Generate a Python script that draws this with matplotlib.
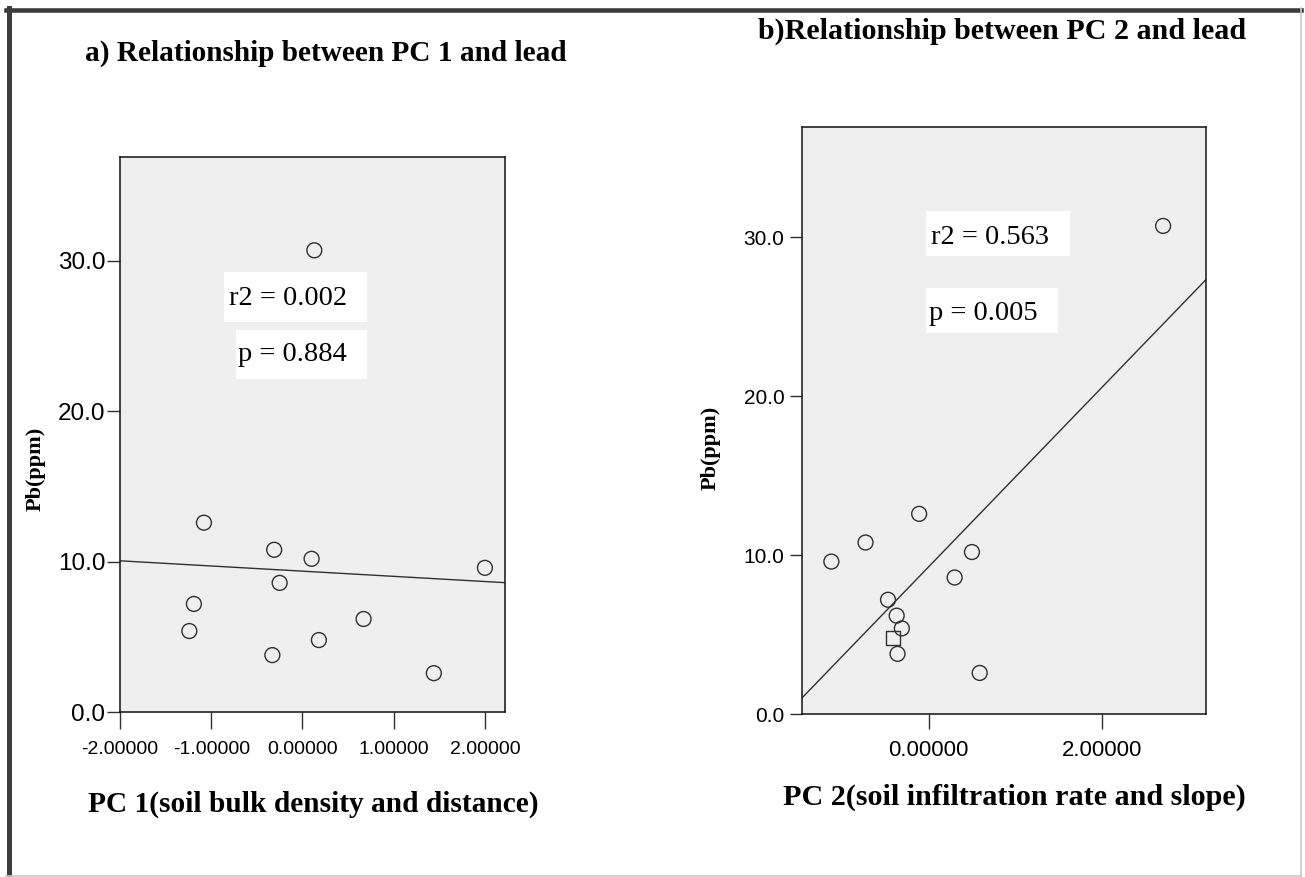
import numpy as np
import matplotlib
matplotlib.use('Agg')
import matplotlib.pyplot as plt
from matplotlib.lines import Line2D
from matplotlib.patches import Rectangle

# data (same 12 samples in both panels)
pb = [30.7, 12.6, 10.8, 10.2, 9.6, 8.6, 7.2, 6.2, 5.4, 4.8, 3.8, 2.6]
pc1 = [0.13, -1.08, -0.31, 0.10, 2.00, -0.25, -1.19, 0.67, -1.24, 0.18, -0.33, 1.44]
pc2 = [2.71, -0.11, -0.73, 0.50, -1.125, 0.30, -0.47, -0.37, -0.31, -0.41, -0.36, 0.59]

titles = ['a) Relationship between PC 1 and lead', 'b)Relationship between PC 2 and lead']
xlabels = ['PC 1(soil bulk density and distance)', 'PC 2(soil infiltration rate and slope)']
ylabel = 'Pb(ppm)'
stats = [('r2 = 0.002', 'p = 0.884'), ('r2 = 0.563', 'p = 0.005')]
xticks1 = [-2, -1, 0, 1, 2]
xticks2 = [0, 2]
yticks = [0, 10, 20, 30]

W, H = 1305, 877
SANS = 'Liberation Sans'
SERIF = 'Liberation Serif'
BG = '#efefef'
INK = '#303030'

fig = plt.figure(figsize=(W / 100, H / 100), dpi=100)


def fx(x):
    return x / W


def fy(y):
    return 1 - y / H


def box(x0, y0, x1, y1):
    fig.add_artist(Rectangle((fx(x0), fy(y1)), fx(x1 - x0), (y1 - y0) / H,
                             transform=fig.transFigure, facecolor='white',
                             edgecolor='none', zorder=3))


def fit_line(ax, x, y):
    k, b = np.polyfit(x, y, 1)
    xs = np.array(ax.get_xlim())
    ax.plot(xs, k * xs + b, color=INK, lw=1.0, zorder=2)


# ---- panel a ----
ax1 = fig.add_axes([fx(120), fy(712.3), fx(385), (712.3 - 157) / H])
ax1.set_facecolor(BG)
ax1.set_xlim(-2.0, 2.22)
ax1.set_ylim(0, 36.9)
ax1.scatter(pc1, pb, s=115, marker='o', facecolors='none', edgecolors=INK,
            linewidths=1.0, zorder=3)
fit_line(ax1, pc1, pb)
ax1.set_xticks(xticks1)
ax1.set_xticklabels([f'{v:.5f}' for v in xticks1], fontfamily=SANS)
ax1.set_yticks(yticks)
ax1.set_yticklabels([f'{v:.1f}' for v in yticks], fontfamily=SANS)
ax1.tick_params(axis='x', labelsize=14, length=12, width=1.0, pad=9, color=INK)
ax1.tick_params(axis='y', labelsize=17.5, length=9.5, width=1.0, pad=1, color=INK)

# ---- panel b ----
ax2 = fig.add_axes([fx(801.6), fy(714.3), fx(1205.5 - 801.6), (714.3 - 127.3) / H])
ax2.set_facecolor(BG)
ax2.set_xlim(-1.469, 3.2)
ax2.set_ylim(0, 36.9)
sq = 9  # the one sample drawn as a square in the original
rest = [i for i in range(len(pb)) if i != sq]
ax2.scatter([pc2[i] for i in rest], [pb[i] for i in rest], s=115, marker='o',
            facecolors='none', edgecolors=INK, linewidths=1.0, zorder=3)
ax2.scatter([pc2[sq]], [pb[sq]], s=100, marker='s', facecolors='none',
            edgecolors=INK, linewidths=1.0, zorder=3)
fit_line(ax2, pc2, pb)
ax2.set_xticks(xticks2)
ax2.set_xticklabels([f'{v:.5f}' for v in xticks2], fontfamily=SANS)
ax2.set_yticks(yticks)
ax2.set_yticklabels([f'{v:.1f}' for v in yticks], fontfamily=SANS)
ax2.tick_params(axis='x', labelsize=16, length=10.8, width=1.0, pad=7.5, color=INK)
ax2.tick_params(axis='y', labelsize=15, length=8.4, width=1.0, pad=4, color=INK)

for ax in (ax1, ax2):
    for sp in ax.spines.values():
        sp.set_color('#111111')
        sp.set_linewidth(1.1)

# ---- titles and axis labels ----
fig.text(fx(85), fy(61), titles[0], fontfamily=SERIF, fontweight='bold',
         fontsize=21.1, ha='left', va='baseline')
fig.text(fx(758), fy(39), titles[1], fontfamily=SERIF, fontweight='bold',
         fontsize=21.6, ha='left', va='baseline')
fig.text(fx(87.5), fy(812), xlabels[0], fontfamily=SERIF, fontweight='bold',
         fontsize=21.2, ha='left', va='baseline')
fig.text(fx(783), fy(805), xlabels[1], fontfamily=SERIF, fontweight='bold',
         fontsize=21.7, ha='left', va='baseline')
fig.text(fx(36), fy(469), ylabel, fontfamily=SERIF, fontweight='bold',
         fontsize=16, rotation=90, ha='center', va='center')
fig.text(fx(710.6), fy(447.5), ylabel, fontfamily=SERIF, fontweight='bold',
         fontsize=16, rotation=90, ha='center', va='center')

# ---- r2 / p annotation boxes ----
box(224, 272, 367, 322)
box(236, 330, 367, 379)
box(926, 211, 1069.5, 256)
box(926, 288, 1057.6, 333)
fig.text(fx(229), fy(305), stats[0][0], fontfamily=SERIF, fontsize=20.5,
         ha='left', va='baseline', zorder=4)
fig.text(fx(238), fy(361.5), stats[0][1], fontfamily=SERIF, fontsize=20.5,
         ha='left', va='baseline', zorder=4)
fig.text(fx(931), fy(244), stats[1][0], fontfamily=SERIF, fontsize=20.5,
         ha='left', va='baseline', zorder=4)
fig.text(fx(929), fy(320), stats[1][1], fontfamily=SERIF, fontsize=20.5,
         ha='left', va='baseline', zorder=4)

# ---- frame round the whole picture ----
fig.add_artist(Line2D([fx(6), fx(1301)], [fy(10.4), fy(10.4)], transform=fig.transFigure,
                      color='#3c3c3c', lw=3.3))
fig.add_artist(Line2D([fx(9.3), fx(9.3)], [fy(8), fy(877)], transform=fig.transFigure,
                      color='#3c3c3c', lw=3.6))
fig.add_artist(Line2D([fx(1300.5), fx(1300.5)], [fy(8), fy(876)], transform=fig.transFigure,
                      color='#c8c8c8', lw=1.2))
fig.add_artist(Line2D([fx(6), fx(1301)], [fy(876), fy(876)], transform=fig.transFigure,
                      color='#c8c8c8', lw=1.2))

fig.savefig('out.png', dpi=100)
